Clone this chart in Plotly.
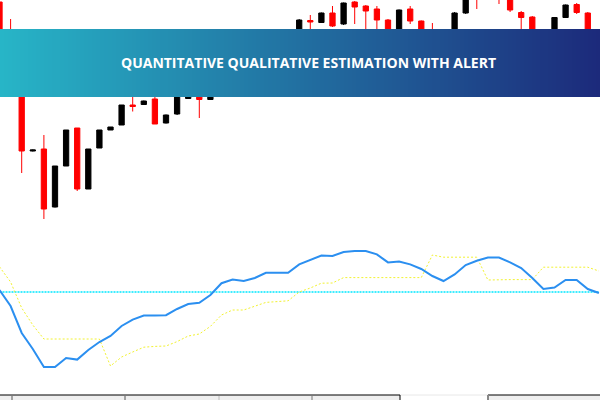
import plotly.graph_objects as go

# ---------------- data ----------------
idx = list(range(55))
opens = [298, 255, 240, 149, 151, 93, 134, 172, 111, 152,
         170, 175, 195, 195.5, 201, 177, 186, 201.5, 209, 200.5,
         216, 230, 222, 240, 250, 242, 255, 264, 279.5, 277.5,
         287, 276, 298, 294, 291, 280, 262, 291, 279, 265,
         252, 260, 287, 310, 303, 320, 306, 287.5, 283, 260,
         250, 282.5, 295.5, 287, 258]
highs = [303, 281, 245, 150.5, 165, 134, 170, 172, 151, 170,
         173, 195, 208, 199.5, 208, 185.5, 210, 212, 214, 220,
         234, 236, 244, 254, 256, 258, 267, 281, 285, 287.5,
         294, 297.5, 299, 295, 294, 281, 290.5, 294, 279.5, 277,
         267, 288, 310, 314, 325, 322, 308, 289, 284, 265,
         283, 295.5, 297, 288, 268]
lows = [230, 234, 127, 148.5, 81, 92.5, 134, 109, 111, 152,
        170, 175, 188.5, 195.5, 176, 176.5, 185, 201, 182, 200,
        212, 218, 220, 237, 238, 240, 250, 260, 267, 277,
        273, 275, 276, 267, 268, 258, 260, 276, 262, 250,
        245, 258, 286, 291, 301, 296, 288, 260, 255, 244,
        248, 282, 286, 255, 250]
closes = [238, 240, 149, 150, 91, 134, 170, 111, 151, 170,
          173, 195, 193.5, 199, 176, 185, 208, 210, 200.5, 216,
          230, 222, 240, 250, 242, 255, 264, 280, 278, 287,
          274, 297, 293, 289, 280, 262, 290, 279, 265, 255,
          260, 287, 308, 303, 320, 306, 290, 282.5, 260, 250,
          282.5, 295, 287.5, 260, 265]

qqe_fast = [50.5, 46.5, 39.75, 35.75, 31.25, 31.25, 33.5, 33.1, 35.5, 37.5,
            39.0, 41.5, 43.1, 44.1, 44.1, 44.2, 45.75, 47.0, 47.3, 49.25,
            52.2, 53.1, 52.75, 53.5, 54.8, 54.8, 54.8, 56.9, 58.0, 59.1,
            59.0, 60.0, 60.25, 60.25, 59.4, 57.4, 57.6, 56.9, 55.75, 54.0,
            52.75, 54.4, 56.75, 57.8, 58.6, 58.6, 57.4, 56.0, 53.5, 50.75,
            51.1, 53.0, 53.0, 50.75, 49.75]
qqe_slow = [56.3, 52.5, 46.0, 41.75, 38.25, 38.25, 38.25, 38.25, 38.25, 38.25,
            31.5, 33.75, 35.0, 36.2, 36.4, 36.5, 37.6, 39.0, 39.5, 41.4,
            44.25, 45.5, 45.5, 46.4, 47.4, 47.6, 47.8, 50.0, 51.0, 52.2,
            52.25, 53.6, 53.6, 53.6, 53.6, 53.6, 53.6, 53.6, 53.6, 59.25,
            58.7, 58.7, 58.7, 58.7, 53.0, 53.1, 53.1, 53.1, 53.1, 56.2,
            56.2, 56.2, 56.2, 56.2, 55.25]
level = [50] * len(idx)

title_text = "QUANTITATIVE QUALITATIVE ESTIMATION WITH ALERT"

# ---------------- figure ----------------
fig = go.Figure()

fig.add_trace(go.Candlestick(
    x=idx, open=opens, high=highs, low=lows, close=closes,
    increasing=dict(line=dict(color="#000000", width=1), fillcolor="#000000"),
    decreasing=dict(line=dict(color="#ff0000", width=1), fillcolor="#ff0000"),
    whiskerwidth=0, xaxis="x", yaxis="y", showlegend=False, hoverinfo="skip",
))

fig.add_trace(go.Scatter(x=idx, y=level, mode="lines", xaxis="x2", yaxis="y2",
                         line=dict(color="#00e8ff", width=1.3, dash="2px,1px"),
                         showlegend=False, hoverinfo="skip"))
fig.add_trace(go.Scatter(x=idx, y=qqe_slow, mode="lines", xaxis="x2", yaxis="y2",
                         line=dict(color="#f2f230", width=1, dash="2px,2px"),
                         showlegend=False, hoverinfo="skip"))
fig.add_trace(go.Scatter(x=idx, y=qqe_fast, mode="lines", xaxis="x2", yaxis="y2",
                         line=dict(color="#2b8ff0", width=2),
                         showlegend=False, hoverinfo="skip"))

xr = [0.045, 54.1]
hidden = dict(showgrid=False, zeroline=False, showticklabels=False, ticks="",
              showline=False, fixedrange=True)

fig.update_layout(
    width=600, height=400,
    margin=dict(l=0, r=0, t=0, b=0),
    paper_bgcolor="#ffffff", plot_bgcolor="#ffffff",
    boxgap=0.32,
    xaxis=dict(domain=[0, 1], range=xr, anchor="y", rangeslider=dict(visible=False), **hidden),
    yaxis=dict(domain=[0.43, 1], range=[72, 300], anchor="x", **hidden),
    xaxis2=dict(domain=[0, 1], range=xr, anchor="y2", matches="x", **hidden),
    yaxis2=dict(domain=[0.0125, 0.42], range=[24.25, 65], anchor="x2", **hidden),
)

# ---------------- banner (horizontal gradient) ----------------
c0 = (39, 181, 199)
c1 = (28, 42, 123)
N = 150
shapes = []
for k in range(N):
    t = (k + 0.5) / N
    col = "rgb(%d,%d,%d)" % tuple(round(a + (b - a) * t) for a, b in zip(c0, c1))
    shapes.append(dict(type="rect", xref="paper", yref="paper",
                       x0=k / N, x1=(k + 1) / N + 0.002, y0=0.7575, y1=0.9275,
                       fillcolor=col, line=dict(width=0), layer="above"))

# ---------------- bottom time scale strip ----------------
def px(x):
    return x / 600.0

strip_top = 0.0125
shapes += [
    dict(type="rect", xref="paper", yref="paper", x0=0, x1=1, y0=0, y1=strip_top,
         fillcolor="#efefef", line=dict(width=0), layer="above"),
    dict(type="rect", xref="paper", yref="paper", x0=px(400), x1=px(488), y0=0, y1=strip_top,
         fillcolor="#ffffff", line=dict(width=0), layer="above"),
    dict(type="line", xref="paper", yref="paper", x0=0, x1=px(400), y0=strip_top, y1=strip_top,
         line=dict(color="#000000", width=1), layer="above"),
    dict(type="line", xref="paper", yref="paper", x0=px(488), x1=1, y0=strip_top, y1=strip_top,
         line=dict(color="#000000", width=1), layer="above"),
    dict(type="line", xref="paper", yref="paper", x0=px(400), x1=px(488), y0=strip_top, y1=strip_top,
         line=dict(color="#e8e8e8", width=1), layer="above"),
    dict(type="line", xref="paper", yref="paper", x0=px(400), x1=px(400), y0=0, y1=strip_top,
         line=dict(color="#000000", width=1), layer="above"),
    dict(type="line", xref="paper", yref="paper", x0=px(488), x1=px(488), y0=0, y1=strip_top,
         line=dict(color="#888888", width=2), layer="above"),
]
for tx, tc in [(12, "#555555"), (125, "#555555"), (219, "#bbbbbb"), (312, "#777777")]:
    shapes.append(dict(type="line", xref="paper", yref="paper", x0=px(tx), x1=px(tx),
                       y0=0, y1=strip_top * 0.8, line=dict(color=tc, width=1), layer="above"))

fig.update_layout(shapes=shapes)

fig.add_annotation(
    text="<b>" + title_text + "</b>", xref="paper", yref="paper",
    x=308 / 600, y=1 - 62 / 400, xanchor="center", yanchor="middle", showarrow=False,
    font=dict(family="Open Sans", size=14, color="#ffffff"),
)

fig.write_html("out.html", config={"displayModeBar": False},
               post_script="document.body.style.margin='0';document.body.style.overflow='hidden';")
